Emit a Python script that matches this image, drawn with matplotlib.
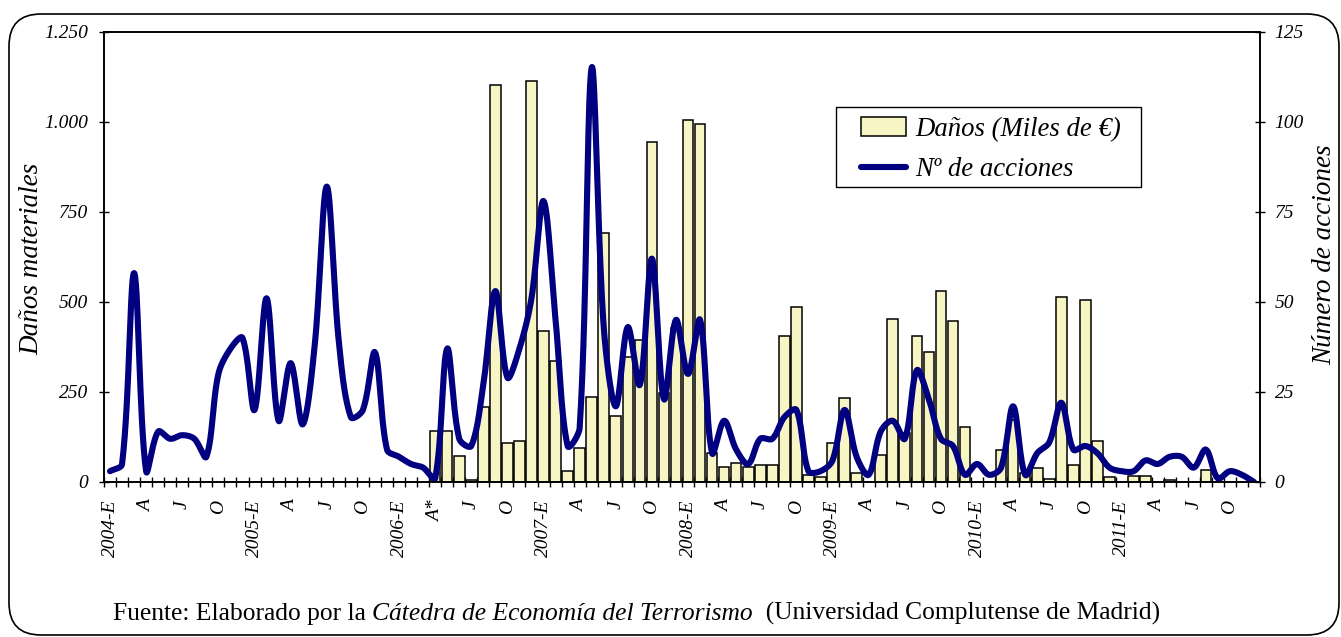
import numpy as np
import matplotlib
matplotlib.use('Agg')
import matplotlib.pyplot as plt
from matplotlib.patches import FancyBboxPatch, Rectangle

# ---------------- data ----------------
month_labels = ['2004-E', 'A', 'J', 'O', '2005-E', 'A', 'J', 'O',
                '2006-E', 'A*', 'J', 'O', '2007-E', 'A', 'J', 'O',
                '2008-E', 'A', 'J', 'O', '2009-E', 'A', 'J', 'O',
                '2010-E', 'A', 'J', 'O', '2011-E', 'A', 'J', 'O']

# Nº de acciones, monthly Jan 2004 - Dec 2011
acciones = [3, 5, 58, 3, 14, 12, 13, 12, 7, 30, 37, 40,
            20, 51, 17, 33, 16, 38, 82, 39, 18, 20, 36, 9,
            7, 5, 4, 1, 37, 12, 10, 27, 53, 29, 37, 51,
            78, 45, 10, 15, 115, 43, 21, 43, 27, 62, 23, 45,
            30, 45, 8, 17, 9, 5, 12, 12, 18, 20, 3, 3,
            6, 20, 7, 2, 14, 17, 12, 31, 23, 12, 10, 2,
            5, 2, 4, 21, 2, 8, 11, 22, 9, 10, 8, 4,
            3, 3, 6, 5, 7, 7, 4, 9, 1, 3, 2, 0]

# Daños (miles de €), monthly from April 2006 (index 27) to Dec 2011
danos_start = 27
danos = [142, 142, 72, 5, 209, 1103, 109, 115, 1114,
         418, 337, 31, 95, 237, 691, 184, 346, 394, 943, 248, 427,
         1005, 994, 81, 43, 52, 43, 47, 47, 404, 485, 19, 13,
         109, 232, 24, 0, 75, 452, 137, 404, 362, 529, 448, 153,
         0, 0, 89, 172, 24, 38, 8, 513, 47, 504, 115, 13,
         0, 18, 18, 0, 5, 0, 0, 33, 0, 0, 0, 0]

left_ticks = [0, 250, 500, 750, 1000, 1250]
right_ticks = [0, 25, 50, 75, 100, 125]


def excel_smooth(x, y, sx, sy, m=30):
    """Smoothed line in the spirit of Excel: Bezier segments whose handles
    are proportional to the adjacent segment lengths (screen space)."""
    P = np.column_stack([np.asarray(x, float) * sx, np.asarray(y, float) * sy])
    n = len(P)
    cm = P.copy()
    cp = P.copy()
    for i in range(n):
        prev = P[i - 1] if i > 0 else P[i]
        nxt = P[i + 1] if i < n - 1 else P[i]
        T = nxt - prev
        d1 = np.hypot(*(P[i] - prev))
        d2 = np.hypot(*(nxt - P[i]))
        if d1 + d2 == 0:
            continue
        cm[i] = P[i] - T * d1 / (d1 + d2) / 3.0
        cp[i] = P[i] + T * d2 / (d1 + d2) / 3.0
    t = np.linspace(0, 1, m, endpoint=False)[:, None]
    pts = []
    for i in range(n - 1):
        b = ((1 - t) ** 3 * P[i] + 3 * (1 - t) ** 2 * t * cp[i]
             + 3 * (1 - t) * t ** 2 * cm[i + 1] + t ** 3 * P[i + 1])
        pts.append(b)
    pts.append(P[-1:])
    pts = np.vstack(pts)
    return pts[:, 0] / sx, pts[:, 1] / sy


plt.rcParams['font.family'] = ['Liberation Serif', 'DejaVu Serif']

W, H = 1341, 637
fig = plt.figure(figsize=(W / 100, H / 100), dpi=100)

# outer rounded frame
frame = FancyBboxPatch((0.09, 0.02), 13.30, 6.21,
                       boxstyle='round,pad=0,rounding_size=0.32',
                       transform=fig.dpi_scale_trans, fill=False,
                       ec='black', lw=1.2)
fig.add_artist(frame)

ax_w_px, ax_h_px = 1156, 450.3
ax = fig.add_axes([104 / W, 1 - 482 / H, ax_w_px / W, ax_h_px / H])
ax2 = ax.twinx()

n = len(acciones)
xd = np.arange(danos_start, danos_start + len(danos))
bars = ax.bar(xd, danos, width=0.88, color='#F7F5C4', edgecolor='black',
              linewidth=1.1, zorder=2)

xs, ys = excel_smooth(np.arange(n), acciones, ax_w_px / n, ax_h_px / 125.0)
line, = ax2.plot(xs, ys, color='#000080', lw=4.4,
                 solid_capstyle='round', solid_joinstyle='round')

ax.set_xlim(-0.5, n - 0.5)
ax.set_ylim(0, 1250)
ax2.set_ylim(0, 125)

tick_font = dict(fontsize=14, fontstyle='italic')
ax.set_yticks(left_ticks, labels=[f"{v:,}".replace(',', '.') for v in left_ticks], **tick_font)
ax2.set_yticks(right_ticks, labels=[str(v) for v in right_ticks], **tick_font)
ax.tick_params(axis='y', direction='inout', length=7.2, width=1.0, pad=8)
ax2.tick_params(axis='y', direction='inout', length=7.2, width=1.0, pad=7)

ax.set_xticks(np.arange(0, n, 3), labels=month_labels, rotation=90, **tick_font)
ax.set_xticks(np.arange(-0.5, n, 1), minor=True)
ax.tick_params(axis='x', which='major', length=0, pad=13)
ax.tick_params(axis='x', which='minor', direction='inout', length=7.2, width=1.0)

for a in (ax, ax2):
    for s in a.spines.values():
        s.set_color('black')
        s.set_linewidth(1.2)

# axis titles
fig.text(32 / W, 1 - 259 / H, 'Daños materiales', rotation=90, ha='center', va='center',
         fontsize=19.5, fontstyle='italic')
fig.text(1325 / W, 1 - 255 / H, 'Número de acciones', rotation=90, ha='center', va='center',
         fontsize=19.5, fontstyle='italic')

# legend box + legend
box = Rectangle((836 / W, 1 - 187 / H), 305 / W, 80 / H, transform=fig.transFigure,
                fc='white', ec='black', lw=1.0, zorder=4)
fig.add_artist(box)
leg = fig.legend([bars, line], ['Daños (Miles de €)', 'Nº de acciones'],
                 loc='upper left', bbox_to_anchor=(861 / W, 1 - 117 / H),
                 frameon=False, borderaxespad=0, borderpad=0,
                 prop={'family': 'Liberation Serif', 'style': 'italic', 'size': 19.3},
                 handlelength=1.68, handletextpad=0.34, labelspacing=0.56)
leg.set_zorder(5)

# footer with mixed styles
renderer = fig.canvas.get_renderer()
parts = [('Fuente: Elaborado por la ', 'normal'),
         ('Cátedra de Economía del Terrorismo', 'italic'),
         ('  (Universidad Complutense de Madrid)', 'normal')]
xpos = 113
for txt, style in parts:
    t = fig.text(xpos / W, 17 / H, txt, ha='left', va='baseline',
                 fontsize=18.4, fontstyle=style)
    bb = t.get_window_extent(renderer=renderer)
    xpos += bb.width

fig.savefig('out.png', dpi=100)
